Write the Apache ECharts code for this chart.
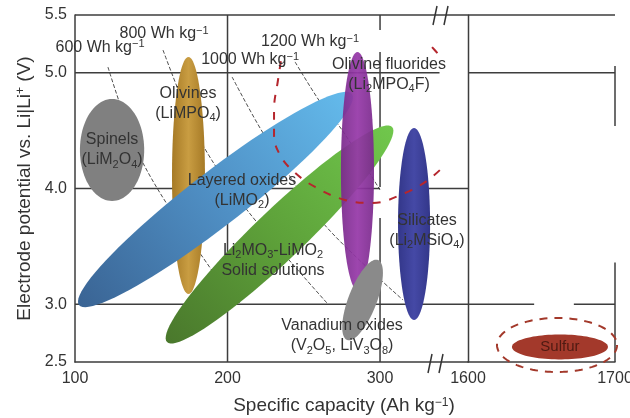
<!DOCTYPE html>
<html><head><meta charset="utf-8">
<script src="https://cdn.jsdelivr.net/npm/echarts@6/dist/echarts.min.js"></script>
<style>html,body{margin:0;padding:0;background:#fff}#c{width:630px;height:418px}</style>
</head><body><div id="c"></div>
<script>
const FONT = '"Liberation Sans", Arial, Helvetica, sans-serif';

// ---- axis tick labels ----
const yTickLabels = [2.5, 3.0, 4.0, 5.0, 5.5];
const xTickLabelsLeft = [100, 200, 300];
const xTickLabelsRight = [1600, 1700];

// ---- cathode material regions: major-axis ends (capacity Ah/kg, potential V) ----
const materialLabels = [
  'Spinels\n(LiM{s|2}O{s|4})',
  'Olivines\n(LiMPO{s|4})',
  'Layered oxides\n(LiMO{s|2})',
  'Li{s|2}MO{s|3}-LiMO{s|2}\nSolid solutions',
  'Olivine fluorides\n(Li{s|2}MPO{s|4}F)',
  'Silicates\n(Li{s|2}MSiO{s|4})',
  'Vanadium oxides\n(V{s|2}O{s|5}, LiV{s|3}O{s|8})'
];
const capacityStart = [124.3, 174.4, 102.6, 160.3, 285.2, 322.3, 298.7];
const capacityEnd   = [124.3, 174.4, 281.6, 307.9, 285.2, 322.3, 278.4];
const voltageStart  = [4.774, 5.137, 2.993, 2.673, 5.180, 4.523, 3.382];
const voltageEnd    = [3.892, 3.088, 4.817, 4.532, 3.122, 2.863, 2.690];
// label anchor (capacity, potential)
const labelCapacity = [124.3, 174.1, 209.5, 229.8, 305.9, 330.8, 275.1];
const labelVoltage  = [4.333, 4.735, 3.983, 3.377, 4.986, 3.637, 2.725];

// ---- sulfur (right panel) ----
const sulfurCapacity = [1629.9, 1695.2];
const sulfurVoltage = [2.630, 2.630];
const sulfurRingCapacity = [1619.7, 1701.4];
const sulfurRingVoltage = [2.647, 2.647];

// ---- red dashed boundary ----
const targetCurve = [
  [235.0, 5.100], [233.1, 4.938], [230.5, 4.679], [230.5, 4.462], [234.4, 4.290],
  [243.0, 4.151], [257.4, 4.013], [277.0, 3.901], [294.8, 3.875], [316.4, 3.961],
  [331.5, 4.073], [342.6, 4.203]
];
const targetCurveTop = [[334.1, 5.223], [338.7, 5.154]];

// ---- iso specific-energy lines ----
const energyNames = ['600', '800', '1000', '1200'];
const iso600  = [[121.6, 5.050], [144.6, 4.220], [190.5, 3.278], [208.2, 3.010]];
const iso800  = [[157.7, 5.197], [182.0, 4.419], [212.8, 3.814], [265.2, 3.010]];
const iso1000 = [[203.0, 4.964], [223.3, 4.480], [262.6, 3.702], [315.1, 3.036]];
const iso1200 = [[244.3, 5.094], [260.7, 4.748], [275.1, 4.506], [300.0, 3.987]];
const energyLabelCapacity = [116.4, 158.4, 214.8, 254.1];
const energyLabelVoltage  = [5.215, 5.336, 5.111, 5.266];

// ---- frame / grid segments [x1, y1, x2, y2] ----
const frameLeft = [
  [100, 5.5, 358, 5.5], [100, 5.0, 339, 5.0], [100, 4.0, 300, 4.0], [329, 4.0, 358, 4.0],
  [100, 3.0, 358, 3.0], [200, 2.5, 200, 5.5],
  [300, 5.5, 300, 5.37], [300, 5.18, 300, 4.013], [300, 3.745, 300, 2.5],
  [358, 2.5, 358, 5.5]
];
const frameRight = [
  [1600, 5.5, 1700, 5.5], [1600, 5.0, 1700, 5.0],
  [1600, 3.0, 1645, 3.0], [1672, 3.0, 1700, 3.0],
  [1700, 5.06, 1700, 4.54], [1700, 3.36, 1700, 2.5]
];

// ---- styles ----
const materialStyles = [
  { ratio: 0.63,  mode: 'solid',  colors: ['#808080'] },
  { ratio: 0.139, mode: 'across', colors: ['#a67a26', '#c99d42', '#a67a26'] },
  { ratio: 0.157, mode: 'along',  colors: ['#3a6494', '#4f8fc4', '#64bbec'] },
  { ratio: 0.16,  mode: 'along',  colors: ['#4a782c', '#5ea23a', '#70c74c'] },
  { ratio: 0.139, mode: 'across', colors: ['#7a2a8c', '#9638a8', '#7a2a8c'] },
  { ratio: 0.167, mode: 'across', colors: ['#33378a', '#4549a6', '#33378a'] },
  { ratio: 0.33,  mode: 'solid',  colors: ['#8a8a8a'] }
];
const LINE_COLOR = '#3d3d3d';
const TEXT_COLOR = '#333';
const RED = '#b5262d';
const RICH = {
  s: { fontSize: 11, lineHeight: 11, verticalAlign: 'bottom', fontFamily: FONT, fill: TEXT_COLOR },
  p: { fontSize: 11, lineHeight: 11, verticalAlign: 'top', fontFamily: FONT, fill: TEXT_COLOR }
};

function ellipsePoints(p1, p2, ratio, n) {
  const cx = (p1[0] + p2[0]) / 2, cy = (p1[1] + p2[1]) / 2;
  const hx = (p2[0] - p1[0]) / 2, hy = (p2[1] - p1[1]) / 2;
  const a = Math.hypot(hx, hy), ux = hx / a, uy = hy / a, b = a * ratio;
  const pts = [];
  for (let i = 0; i <= n; i++) {
    const t = 2 * Math.PI * i / n;
    const c = Math.cos(t), s = Math.sin(t);
    pts.push([cx + a * c * ux - b * s * uy, cy + a * c * uy + b * s * ux]);
  }
  return pts;
}

function makeFill(st, p1, p2) {
  if (st.mode === 'solid') return st.colors[0];
  const stops = st.colors.map((c, k) => ({ offset: k / (st.colors.length - 1), color: c }));
  if (st.mode === 'along') {
    return new echarts.graphic.LinearGradient(p1[0], p1[1], p2[0], p2[1], stops, true);
  }
  const cx = (p1[0] + p2[0]) / 2, cy = (p1[1] + p2[1]) / 2;
  const hx = (p2[0] - p1[0]) / 2, hy = (p2[1] - p1[1]) / 2;
  const a = Math.hypot(hx, hy), b = a * st.ratio;
  const vx = -hy / a, vy = hx / a;
  return new echarts.graphic.LinearGradient(cx - vx * b, cy - vy * b, cx + vx * b, cy + vy * b, stops, true);
}

const chart = echarts.init(document.getElementById('c'), null, { renderer: 'canvas' });

const baseAxisLabel = { color: TEXT_COLOR, fontFamily: FONT, fontSize: 16 };

const option = {
  animation: false,
  backgroundColor: '#fff',
  grid: [
    { left: 75, top: 15, width: 393.5, height: 347, outerBoundsMode: 'none', containLabel: false },
    { left: 468, top: 15, width: 147, height: 347, outerBoundsMode: 'none', containLabel: false }
  ],
  xAxis: [
    {
      gridIndex: 0, type: 'value', min: 100, max: 358, interval: 100,
      axisLine: { show: true, lineStyle: { color: LINE_COLOR, width: 1.5 } },
      axisTick: { show: false }, splitLine: { show: false },
      axisLabel: Object.assign({ margin: 9, showMaxLabel: false,
        formatter: v => xTickLabelsLeft.indexOf(v) >= 0 ? String(v) : '' }, baseAxisLabel)
    },
    {
      gridIndex: 1, type: 'value', min: 1600, max: 1700, interval: 100,
      axisLine: { show: true, lineStyle: { color: LINE_COLOR, width: 1.5 } },
      axisTick: { show: false }, splitLine: { show: false },
      axisLabel: Object.assign({ margin: 9,
        formatter: v => xTickLabelsRight.indexOf(v) >= 0 ? String(v) : '' }, baseAxisLabel)
    }
  ],
  yAxis: [
    {
      gridIndex: 0, type: 'value', min: 2.5, max: 5.5, interval: 0.5,
      axisLine: { show: true, lineStyle: { color: LINE_COLOR, width: 1.5 } },
      axisTick: { show: false }, splitLine: { show: false },
      axisLabel: Object.assign({ margin: 8,
        formatter: v => yTickLabels.some(t => Math.abs(t - v) < 1e-6) ? v.toFixed(1) : '' }, baseAxisLabel),
      name: 'Electrode potential vs. Li|Li{p|+} (V)',
      nameLocation: 'middle', nameRotate: 90, nameGap: 41,
      nameTextStyle: { color: TEXT_COLOR, fontFamily: FONT, fontSize: 19,
        rich: { p: { fontSize: 12, lineHeight: 12, verticalAlign: 'top', color: TEXT_COLOR, fontFamily: FONT } } }
    },
    {
      gridIndex: 1, type: 'value', min: 2.5, max: 5.5, interval: 0.5, show: false
    }
  ],
  graphic: [
    { type: 'text', x: 344, y: 406, z: 10,
      style: { text: 'Specific capacity (Ah kg{p|−1})', align: 'center', verticalAlign: 'middle',
        fontSize: 19, fontFamily: FONT, fill: TEXT_COLOR,
        rich: { p: { fontSize: 12, lineHeight: 12, verticalAlign: 'top', fontFamily: FONT, fill: TEXT_COLOR } } } },
    { type: 'line', z: 10, shape: { x1: 433, y1: 25, x2: 437, y2: 6 }, style: { stroke: '#333', lineWidth: 1.5 } },
    { type: 'line', z: 10, shape: { x1: 444, y1: 25, x2: 448, y2: 6 }, style: { stroke: '#333', lineWidth: 1.5 } },
    { type: 'line', z: 10, shape: { x1: 428, y1: 373, x2: 432, y2: 354 }, style: { stroke: '#333', lineWidth: 1.5 } },
    { type: 'line', z: 10, shape: { x1: 439, y1: 373, x2: 443, y2: 354 }, style: { stroke: '#333', lineWidth: 1.5 } }
  ],
  series: []
};

// iso-energy lines
[iso600, iso800, iso1000, iso1200].forEach((pts, k) => {
  option.series.push({
    type: 'line', name: energyNames[k] + ' Wh/kg', xAxisIndex: 0, yAxisIndex: 0, z: 1,
    data: pts, smooth: 0.3, showSymbol: false, symbol: 'none', silent: true,
    lineStyle: { color: '#3a3a3a', width: 0.9, type: [4, 2] }
  });
});

// frame segments
function frameSeries(data, idx) {
  return {
    type: 'custom', xAxisIndex: idx, yAxisIndex: idx, z: 2, silent: true,
    data: data, encode: { x: [0, 2], y: [1, 3] },
    renderItem: (params, api) => {
      const a = api.coord([api.value(0), api.value(1)]);
      const b = api.coord([api.value(2), api.value(3)]);
      return { type: 'line', shape: { x1: a[0], y1: a[1], x2: b[0], y2: b[1] },
        style: { stroke: LINE_COLOR, lineWidth: 1.5 } };
    }
  };
}
option.series.push(frameSeries(frameLeft, 0));
option.series.push(frameSeries(frameRight, 1));

// material ellipses
option.series.push({
  type: 'custom', name: 'materials', xAxisIndex: 0, yAxisIndex: 0, z: 3, silent: true,
  data: materialLabels.map((n, i) => [capacityStart[i], voltageStart[i], capacityEnd[i], voltageEnd[i], i]),
  encode: { x: [0, 2], y: [1, 3] },
  renderItem: (params, api) => {
    const i = api.value(4);
    const st = materialStyles[i];
    const p1 = api.coord([api.value(0), api.value(1)]);
    const p2 = api.coord([api.value(2), api.value(3)]);
    return { type: 'polygon', shape: { points: ellipsePoints(p1, p2, st.ratio, 90) },
      style: { fill: makeFill(st, p1, p2), opacity: i === 4 ? 0.93 : 1 } };
  }
});

// red dashed boundary
[targetCurve, targetCurveTop].forEach(pts => {
  option.series.push({
    type: 'line', xAxisIndex: 0, yAxisIndex: 0, z: 4, silent: true,
    data: pts, smooth: 0.4, showSymbol: false, symbol: 'none',
    lineStyle: { color: RED, width: 2, type: [8, 9] }
  });
});

// sulfur
option.series.push({
  type: 'custom', name: 'sulfur', xAxisIndex: 1, yAxisIndex: 1, z: 4, silent: true,
  data: [[sulfurCapacity[0], sulfurVoltage[0], sulfurCapacity[1], sulfurVoltage[1], 0],
         [sulfurRingCapacity[0], sulfurRingVoltage[0], sulfurRingCapacity[1], sulfurRingVoltage[1], 1]],
  encode: { x: [0, 2], y: [1, 3] },
  renderItem: (params, api) => {
    const k = api.value(4);
    const p1 = api.coord([api.value(0), api.value(1)]);
    const p2 = api.coord([api.value(2), api.value(3)]);
    if (k === 0) {
      return { type: 'group', children: [
        { type: 'polygon', shape: { points: ellipsePoints(p1, p2, 0.26, 90) }, style: { fill: '#a3392b' } },
        { type: 'text', x: (p1[0] + p2[0]) / 2, y: (p1[1] + p2[1]) / 2,
          style: { text: 'Sulfur', align: 'center', verticalAlign: 'middle', fontSize: 15, fontFamily: FONT, fill: '#4e1a12' } }
      ] };
    }
    return { type: 'polygon', shape: { points: ellipsePoints(p1, p2, 0.45, 120) },
      style: { fill: null, stroke: '#a3392b', lineWidth: 2, lineDash: [8, 7] } };
  }
});

// material labels
option.series.push({
  type: 'custom', name: 'labels', xAxisIndex: 0, yAxisIndex: 0, z: 6, silent: true,
  data: materialLabels.map((t, i) => [labelCapacity[i], labelVoltage[i], i]),
  renderItem: (params, api) => {
    const i = api.value(2);
    const p = api.coord([api.value(0), api.value(1)]);
    return { type: 'text', x: p[0], y: p[1],
      style: { text: materialLabels[i], align: 'center', verticalAlign: 'middle',
        fontSize: 16, lineHeight: 20, fontFamily: FONT, fill: TEXT_COLOR, rich: RICH } };
  }
});

// energy labels
option.series.push({
  type: 'custom', name: 'energyLabels', xAxisIndex: 0, yAxisIndex: 0, z: 6, silent: true,
  data: energyNames.map((t, i) => [energyLabelCapacity[i], energyLabelVoltage[i], i]),
  renderItem: (params, api) => {
    const i = api.value(2);
    const p = api.coord([api.value(0), api.value(1)]);
    return { type: 'text', x: p[0], y: p[1],
      style: { text: energyNames[i] + ' Wh kg{p|−1}', align: 'center', verticalAlign: 'middle',
        fontSize: 16, lineHeight: 18, fontFamily: FONT, fill: TEXT_COLOR, rich: RICH } };
  }
});

chart.setOption(option);
</script></body></html>
